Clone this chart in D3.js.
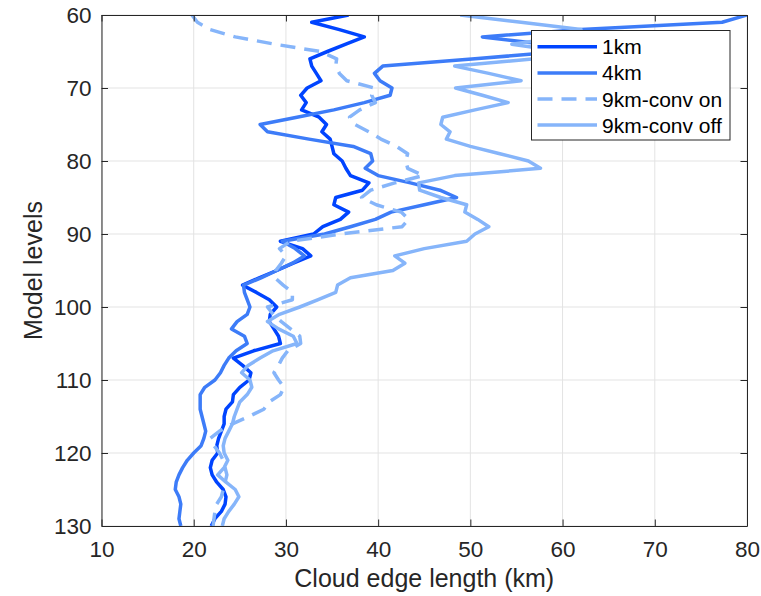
<!DOCTYPE html>
<html>
<head>
<meta charset="utf-8">
<script src="https://cdn.jsdelivr.net/npm/d3@7"></script>
<style>
  html, body { margin: 0; padding: 0; background: #fff; }
  svg { display: block; font-family: "Liberation Sans", Arial, Helvetica, sans-serif; }
</style>
</head>
<body>
<svg id="chart" width="761" height="596"></svg>
<script>
// Model levels (vertical coordinate, top of the plot is level 60)
const levels = [
  60, 61, 62, 63, 64, 65, 66, 67, 68, 69,
  70, 71, 72, 73, 74, 75, 76, 77, 78, 79,
  80, 81, 82, 83, 84, 85, 86, 87, 88, 89,
  90, 91, 92, 93, 94, 95, 96, 97, 98, 99,
  100, 101, 102, 103, 104, 105, 106, 107, 108, 109,
  110, 111, 112, 113, 114, 115, 116, 117, 118, 119,
  120, 121, 122, 123, 124, 125, 126, 127, 128, 129,
  130
];

// Cloud edge length (km) per model level, one array per simulation
const edge1km = [
  36.8, 32.8, 35.8, 38.5, 36.5, 34.5, 32.6, 32.8, 33.3, 33.8,
  32.3, 31.6, 32.2, 31.7, 33.6, 34.4, 33.9, 34.8, 35.0, 35.2,
  36.1, 36.5, 37.0, 39.0, 38.3, 35.4, 35.2, 36.8, 35.9, 34.0,
  33.0, 29.4, 31.8, 32.7, 30.8, 29.0, 27.1, 25.3, 26.8, 28.2,
  29.0, 28.3, 28.2, 28.7, 29.2, 29.4, 26.5, 24.3, 25.3, 26.2,
  26.0, 25.0, 24.3, 24.2, 23.5, 23.3, 23.3, 23.0, 22.7, 22.5,
  22.6, 22.0, 21.8, 22.0, 22.5, 23.2, 23.5, 23.4, 23.0, 22.3,
  21.9
];

const edge4km = [
  80.0, 77.3, 62.0, 51.3, 58.0, 60.0, 50.5, 40.5, 39.6, 40.2,
  41.5, 41.3, 38.5, 35.2, 31.2, 27.2, 28.0, 32.5, 37.3, 39.2,
  39.4, 38.6, 40.0, 43.5, 46.7, 48.5, 45.0, 41.4, 39.7, 37.0,
  34.2, 29.6, 31.0, 32.0, 30.7, 29.0, 27.3, 25.4, 25.5, 25.8,
  26.1, 25.8, 24.7, 24.1, 25.5, 25.8, 24.6, 23.8, 23.3, 22.9,
  22.3, 21.2, 20.7, 20.7, 20.7, 20.9, 21.1, 21.3, 21.1, 20.8,
  20.0, 19.3, 18.8, 18.4, 18.1, 18.0, 18.4, 18.6, 18.5, 18.4,
  18.6
];

const edge9kmConvOn = [
  19.8, 20.4, 21.8, 24.5, 28.8, 33.7, 35.5, 35.4, 35.8, 36.6,
  39.6, 39.3, 39.7, 38.0, 36.9, 37.5, 39.0, 40.3, 42.0, 43.2,
  43.0, 43.2, 44.9, 41.8, 39.2, 38.2, 39.8, 42.5, 43.3, 42.6,
  36.0, 30.5, 29.3, 30.0, 29.5, 28.9, 28.8, 29.7, 30.7, 30.7,
  28.0, 28.6, 29.5, 30.5, 31.5, 31.6, 30.2, 29.6, 29.2, 28.7,
  29.2, 29.8, 29.4, 28.2, 27.6, 26.0, 24.2, 22.8, 21.8, 22.2,
  22.8, 23.2, 23.4, 23.6, 23.4, 23.2, 23.0, 22.5, 22.3, 22.2,
  22.1
];

const edge9kmConvOff = [
  48.9, 55.5, 62.0, 60.0, 54.5, 60.0, 57.0, 48.3, 52.0, 55.5,
  48.4, 51.3, 54.1, 50.5, 47.0, 46.8, 47.8, 47.4, 50.0, 53.2,
  56.3, 57.6, 48.3, 44.4, 44.5, 46.8, 49.6, 49.4, 50.8, 52.0,
  50.5, 49.6, 45.0, 41.8, 42.9, 41.6, 37.0, 35.6, 35.4, 33.5,
  31.5, 29.3, 28.0, 29.2, 30.8, 31.2, 28.6, 27.2, 25.9, 25.2,
  26.1, 26.3, 25.8, 25.0, 24.7, 24.4, 24.2, 23.8, 23.4, 23.2,
  23.3, 23.7, 23.3, 22.6, 23.5, 24.5, 24.9, 24.4, 23.8, 23.3,
  23.1
];

const seriesNames = ["1km", "4km", "9km-conv on", "9km-conv off"];
const xTicks = [10, 20, 30, 40, 50, 60, 70, 80];
const yTicks = [60, 70, 80, 90, 100, 110, 120, 130];

// Styling per series (drawn in this order, last on top)
const seriesStyle = [
  { values: edge1km,        color: "#0044ff", dash: null },
  { values: edge4km,        color: "#3d7cf8", dash: null },
  { values: edge9kmConvOn,  color: "#86b5fa", dash: "15,9" },
  { values: edge9kmConvOff, color: "#86b5fa", dash: null }
];

const svg = d3.select("#chart");
const plot = { left: 101.5, right: 747, top: 15, bottom: 526 };

const x = d3.scaleLinear().domain([10, 80]).range([plot.left, plot.right]);
const y = d3.scaleLinear().domain([60, 130]).range([plot.top, plot.bottom]);

const axisColor = "#262626";
const gridColor = "#e3e3e3";
const tickFont = "22.5px";

// Grid
const grid = svg.append("g");
grid.selectAll("line.gx").data(xTicks).join("line")
  .attr("x1", d => x(d)).attr("x2", d => x(d))
  .attr("y1", plot.top).attr("y2", plot.bottom)
  .attr("stroke", gridColor).attr("stroke-width", 1);
grid.selectAll("line.gy").data(yTicks).join("line")
  .attr("x1", plot.left).attr("x2", plot.right)
  .attr("y1", d => y(d)).attr("y2", d => y(d))
  .attr("stroke", gridColor).attr("stroke-width", 1);

// Data lines, clipped to the axes box
svg.append("clipPath").attr("id", "plotClip")
  .append("rect")
  .attr("x", plot.left).attr("y", plot.top)
  .attr("width", plot.right - plot.left).attr("height", plot.bottom - plot.top);

const lineGen = d3.line()
  .x(d => x(d[1]))
  .y(d => y(d[0]));

const linesG = svg.append("g").attr("clip-path", "url(#plotClip)");
seriesStyle.forEach(s => {
  const pts = levels.map((lv, i) => [lv, s.values[i]]);
  linesG.append("path")
    .datum(pts)
    .attr("d", lineGen)
    .attr("fill", "none")
    .attr("stroke", s.color)
    .attr("stroke-width", 3.5)
    .attr("stroke-linejoin", "round")
    .attr("stroke-dasharray", s.dash);
});

// Axes (ticks point inward, box on all four sides)
function styleAxis(g) {
  g.select(".domain").attr("stroke", axisColor).attr("stroke-width", 1);
  g.selectAll(".tick line").attr("stroke", axisColor).attr("stroke-width", 1);
  g.selectAll(".tick text")
    .attr("fill", axisColor)
    .style("font-size", tickFont)
    .style("font-family", "'Liberation Sans', Arial, sans-serif");
}

svg.append("g")
  .attr("transform", `translate(0,${plot.bottom})`)
  .call(d3.axisBottom(x).tickValues(xTicks).tickSizeInner(-6.5).tickSizeOuter(0).tickPadding(15))
  .call(styleAxis);

svg.append("g")
  .attr("transform", `translate(0,${plot.top})`)
  .call(d3.axisTop(x).tickValues(xTicks).tickSizeInner(-6.5).tickSizeOuter(0).tickFormat(""))
  .call(styleAxis);

svg.append("g")
  .attr("transform", `translate(${plot.left},0)`)
  .call(d3.axisLeft(y).tickValues(yTicks).tickSizeInner(-6.5).tickSizeOuter(0).tickPadding(10))
  .call(styleAxis);

svg.append("g")
  .attr("transform", `translate(${plot.right},0)`)
  .call(d3.axisRight(y).tickValues(yTicks).tickSizeInner(-6.5).tickSizeOuter(0).tickFormat(""))
  .call(styleAxis);

// Axis titles
svg.append("text")
  .attr("x", (plot.left + plot.right) / 2)
  .attr("y", 587)
  .attr("text-anchor", "middle")
  .attr("fill", axisColor)
  .style("font-size", "25px")
  .text("Cloud edge length (km)");

svg.append("text")
  .attr("transform", `translate(42,${(plot.top + plot.bottom) / 2}) rotate(-90)`)
  .attr("text-anchor", "middle")
  .attr("fill", axisColor)
  .style("font-size", "25px")
  .text("Model levels");

// Legend
const legend = svg.append("g");
const lg = { x: 531.5, y: 30.5, w: 198.5, h: 109.5 };
legend.append("rect")
  .attr("x", lg.x).attr("y", lg.y).attr("width", lg.w).attr("height", lg.h)
  .attr("fill", "#fff").attr("stroke", axisColor).attr("stroke-width", 1);

seriesNames.forEach((name, i) => {
  const cy = 46.8 + i * 26.1;
  const s = seriesStyle[i];
  legend.append("line")
    .attr("x1", 537.5).attr("x2", 597)
    .attr("y1", cy).attr("y2", cy)
    .attr("stroke", s.color)
    .attr("stroke-width", 3.5)
    .attr("stroke-dasharray", s.dash);
  legend.append("text")
    .attr("x", 602)
    .attr("y", cy)
    .attr("dy", "0.36em")
    .attr("fill", "#000")
    .style("font-size", "21px")
    .text(name);
});
</script>
</body>
</html>
